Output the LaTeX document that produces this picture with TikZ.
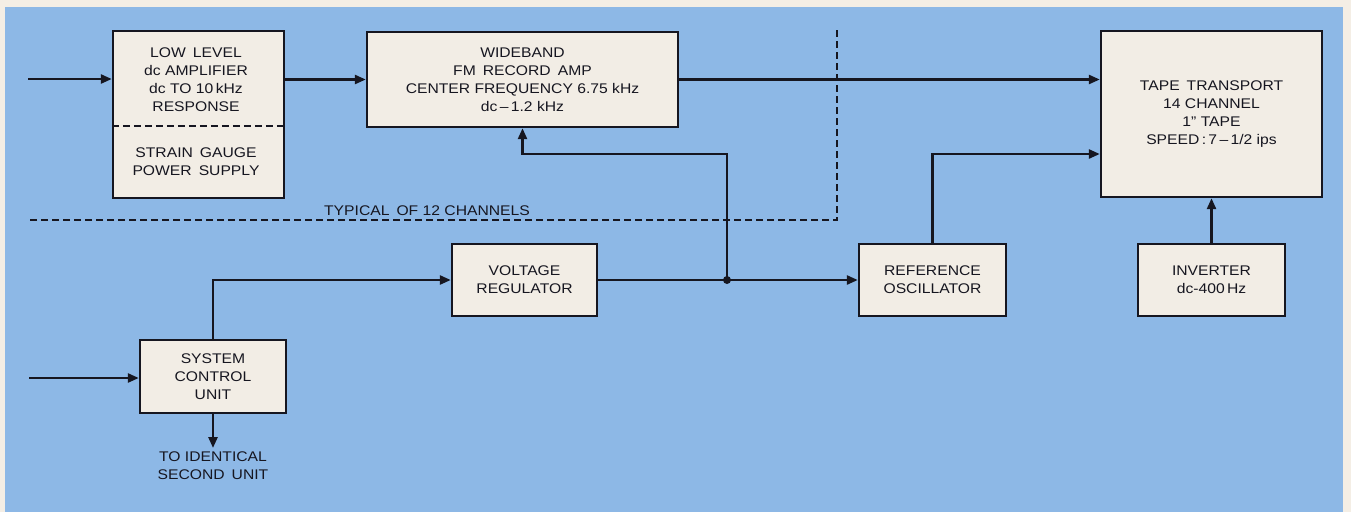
\documentclass[tikz,border=0pt]{standalone}
\usepackage{fontspec}
\setmainfont[FakeStretch=1.12]{Liberation Sans}
\usetikzlibrary{arrows.meta}
\definecolor{bgblue}{RGB}{141,184,230}
\definecolor{paper}{RGB}{244,238,229}
\definecolor{boxfill}{RGB}{242,237,229}
\definecolor{ink}{RGB}{22,22,32}
\newcommand\lblfont{\fontsize{14}{18}\selectfont}
\begin{document}
\begin{tikzpicture}[x=1pt,y=-1pt,
  blk/.style={draw=ink, fill=boxfill, line width=2.4pt, inner sep=0pt, align=center, font=\lblfont, text=ink},
  txt/.style={inner sep=0pt, align=center, font=\lblfont, text=ink},
  conn/.style={draw=ink, line width=2.5pt},
  arr/.style={draw=ink, line width=2.5pt, -{Triangle[length=11pt,width=9pt]}},
  bound/.style={draw=ink, line width=2.3pt, dash pattern=on 7pt off 4pt}]
\fill[paper] (0,0) rectangle (1351,512);
\fill[bgblue] (5,7) rectangle (1343,512);
\useasboundingbox (0,0) rectangle (1351,512);

% coordinates
\coordinate (in1) at (28,79);
\coordinate (in2) at (29,378);
\coordinate (divy) at (0,126);
\coordinate (d1) at (837,30);
\coordinate (d2) at (837,220);
\coordinate (d3) at (28,220);
\coordinate (rb) at (727,154);
\coordinate (j) at (727,280);
\coordinate (down) at (213,448);

% boundary of the typical channel
\draw[bound] (d1) -- (d2) -- (d3);
\node[txt, anchor=base] (typ) at (427,215) {TYPICAL\enspace OF 12 CHANNELS};

% blocks
\node[blk, minimum width=171pt, minimum height=167pt] (lla) at (198.5,114.5) {};
\node[txt] (llat) at (196,80) {LOW\enspace LEVEL\\dc AMPLIFIER\\dc TO 10\,kHz\\RESPONSE};
\node[txt] (lls) at (196,161.5) {STRAIN\enspace GAUGE\\POWER\enspace SUPPLY};
\draw[bound] (lla.west |- divy) -- (lla.east |- divy);

\node[blk, minimum width=311pt, minimum height=95pt] (wb) at (522.5,79.5)
  {WIDEBAND\\FM\enspace RECORD\enspace AMP\\CENTER FREQUENCY 6.75 kHz\\dc\,--\,1.2 kHz};
\node[blk, minimum width=221pt, minimum height=166pt] (tt) at (1211.5,114)
  {TAPE\enspace TRANSPORT\\14 CHANNEL\\1" TAPE\\SPEED\,:\,7\,--\,1/2 ips};
\node[blk, minimum width=145pt, minimum height=72pt] (vr) at (524.5,280) {VOLTAGE\\REGULATOR};
\node[blk, minimum width=146pt, minimum height=73pt] (scu) at (213,376.5) {SYSTEM\\CONTROL\\UNIT};
\node[blk, minimum width=147pt, minimum height=72pt] (ro) at (932.5,280) {REFERENCE\\OSCILLATOR};
\node[blk, minimum width=147pt, minimum height=72pt] (inv) at (1211.5,280) {INVERTER\\dc-400\,Hz};
\node[txt, anchor=north] (second) at (213,452) {TO IDENTICAL\\SECOND\enspace UNIT};

% connectors
\draw[arr] (in1) -- (in1 -| lla.west);
\draw[arr] (lla.east |- wb.west) -- (wb.west);
\draw[arr] (wb.east) -- (wb.east -| tt.west);
\draw[arr] (in2) -- (in2 -| scu.west);
\draw[arr] (scu.north) |- (vr.west);
\draw[arr] (scu.south) -- (down);
\draw[conn] (vr.east) -- (j);
\draw[arr] (j) -- (ro.west);
\draw[arr] (j) -- (rb) -| (wb.south);
\draw[arr] (ro.north) |- (rb -| tt.west);
\draw[arr] (inv.north) -- (tt.south);
\fill[ink] (j) circle (4pt);
\end{tikzpicture}
\end{document}
